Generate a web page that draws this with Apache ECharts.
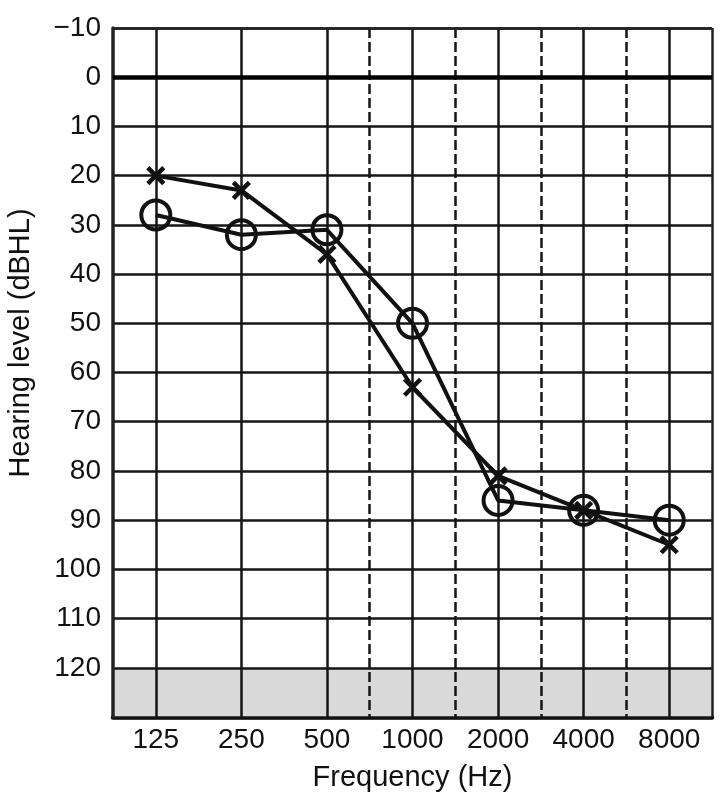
<!DOCTYPE html>
<html>
<head>
<meta charset="utf-8">
<script src="https://cdn.jsdelivr.net/npm/echarts@6/dist/echarts.min.js"></script>
<style>
  html, body { margin: 0; padding: 0; background: #fff; }
  #chart { width: 720px; height: 800px; }
</style>
</head>
<body>
<div id="chart"></div>
<script>
// frequencies (Hz), one octave apart on the x axis
var freqLabels = ['125', '250', '500', '1000', '2000', '4000', '8000'];
// hearing levels (dBHL)
var circleLevels = [28, 32, 31, 50, 86, 88, 90];
var crossLevels = [20, 23, 36, 63, 81, 88, 95];
// solid octave lines and dashed mid-octave lines (750, 1500, 3000, 6000 Hz)
var octaveLines = [0, 1, 2, 3, 4, 5, 6];
var halfOctaveLines = [2.5, 3.5, 4.5, 5.5];
var levelMin = -10;
var levelMax = 130;
var greyFrom = 120;

var font = '"Liberation Sans", Arial, Helvetica, sans-serif';
var ink = '#111';

var chart = echarts.init(document.getElementById('chart'));

function toPoints(arr) {
  return arr.map(function (v, i) { return [i, v]; });
}

// vertical grid + borders + thick 0 dB line
var gridLines = [];
octaveLines.forEach(function (x) {
  gridLines.push({ xAxis: x, lineStyle: { type: 'solid', width: 2.5, color: '#151515' } });
});
halfOctaveLines.forEach(function (x) {
  gridLines.push({ xAxis: x, lineStyle: { type: [10, 4], width: 2.5, color: '#151515' } });
});
gridLines.push({ xAxis: octaveLines.length - 0.5, lineStyle: { type: 'solid', width: 2.5, color: '#222' } });
gridLines.push({ yAxis: levelMin, lineStyle: { type: 'solid', width: 2.5, color: '#222' } });
gridLines.push({ yAxis: 0, lineStyle: { type: 'solid', width: 4.5, color: '#000' } });

chart.setOption({
  animation: false,
  backgroundColor: '#fff',
  grid: { left: 113, right: 8, top: 28, bottom: 83 },
  xAxis: {
    type: 'value',
    min: -0.5,
    max: octaveLines.length - 0.5,
    interval: 0.5,
    position: 'bottom',
    name: 'Frequency (Hz)',
    nameLocation: 'middle',
    nameGap: 46,
    nameTextStyle: { fontFamily: font, fontSize: 29, color: ink },
    axisLine: { onZero: false, lineStyle: { color: '#000', width: 4.5 } },
    axisTick: { show: false },
    splitLine: { show: false },
    axisLabel: {
      margin: 9,
      fontFamily: font,
      fontSize: 28,
      color: ink,
      formatter: function (v) {
        return Number.isInteger(v) && freqLabels[v] ? freqLabels[v] : '';
      }
    }
  },
  yAxis: {
    type: 'value',
    inverse: true,
    min: levelMin,
    max: levelMax,
    interval: 10,
    z: 3,
    axisLine: { show: true, onZero: false, lineStyle: { color: '#222', width: 3.5 } },
    axisTick: { show: false },
    splitLine: { show: true, lineStyle: { color: '#151515', width: 2.5 } },
    axisLabel: {
      margin: 12,
      fontFamily: font,
      fontSize: 28,
      color: ink,
      formatter: function (v) {
        if (v === levelMax) return '';
        return v < 0 ? '\u2212' + Math.abs(v) : String(v);
      }
    }
  },
  graphic: [{
    type: 'text',
    x: 21,
    y: 343,
    rotation: Math.PI / 2,
    style: {
      text: 'Hearing level (dBHL)',
      font: '29px ' + font,
      fill: ink,
      align: 'center',
      verticalAlign: 'middle'
    }
  }],
  series: [
    {
      // grey band below 120 dB
      type: 'line',
      z: 1,
      data: [],
      silent: true,
      markArea: {
        silent: true,
        itemStyle: { color: '#d9d9d9' },
        data: [[{ yAxis: greyFrom }, { yAxis: levelMax }]]
      }
    },
    {
      type: 'line',
      z: 4,
      data: [],
      silent: true,
      markLine: {
        silent: true,
        symbol: 'none',
        label: { show: false },
        data: gridLines
      }
    },
    {
      name: 'O',
      type: 'line',
      z: 5,
      data: toPoints(circleLevels),
      symbol: 'circle',
      symbolSize: 29,
      showAllSymbol: true,
      lineStyle: { color: ink, width: 4 },
      itemStyle: { color: 'rgba(0,0,0,0)', borderColor: ink, borderWidth: 4 }
    },
    {
      name: 'X',
      type: 'line',
      z: 6,
      data: toPoints(crossLevels),
      symbol: 'path://M0 0L10 10M10 0L0 10',
      symbolSize: 16,
      showAllSymbol: true,
      lineStyle: { color: ink, width: 4 },
      itemStyle: { color: ink, borderColor: ink, borderWidth: 4.5 }
    }
  ]
});
</script>
</body>
</html>
